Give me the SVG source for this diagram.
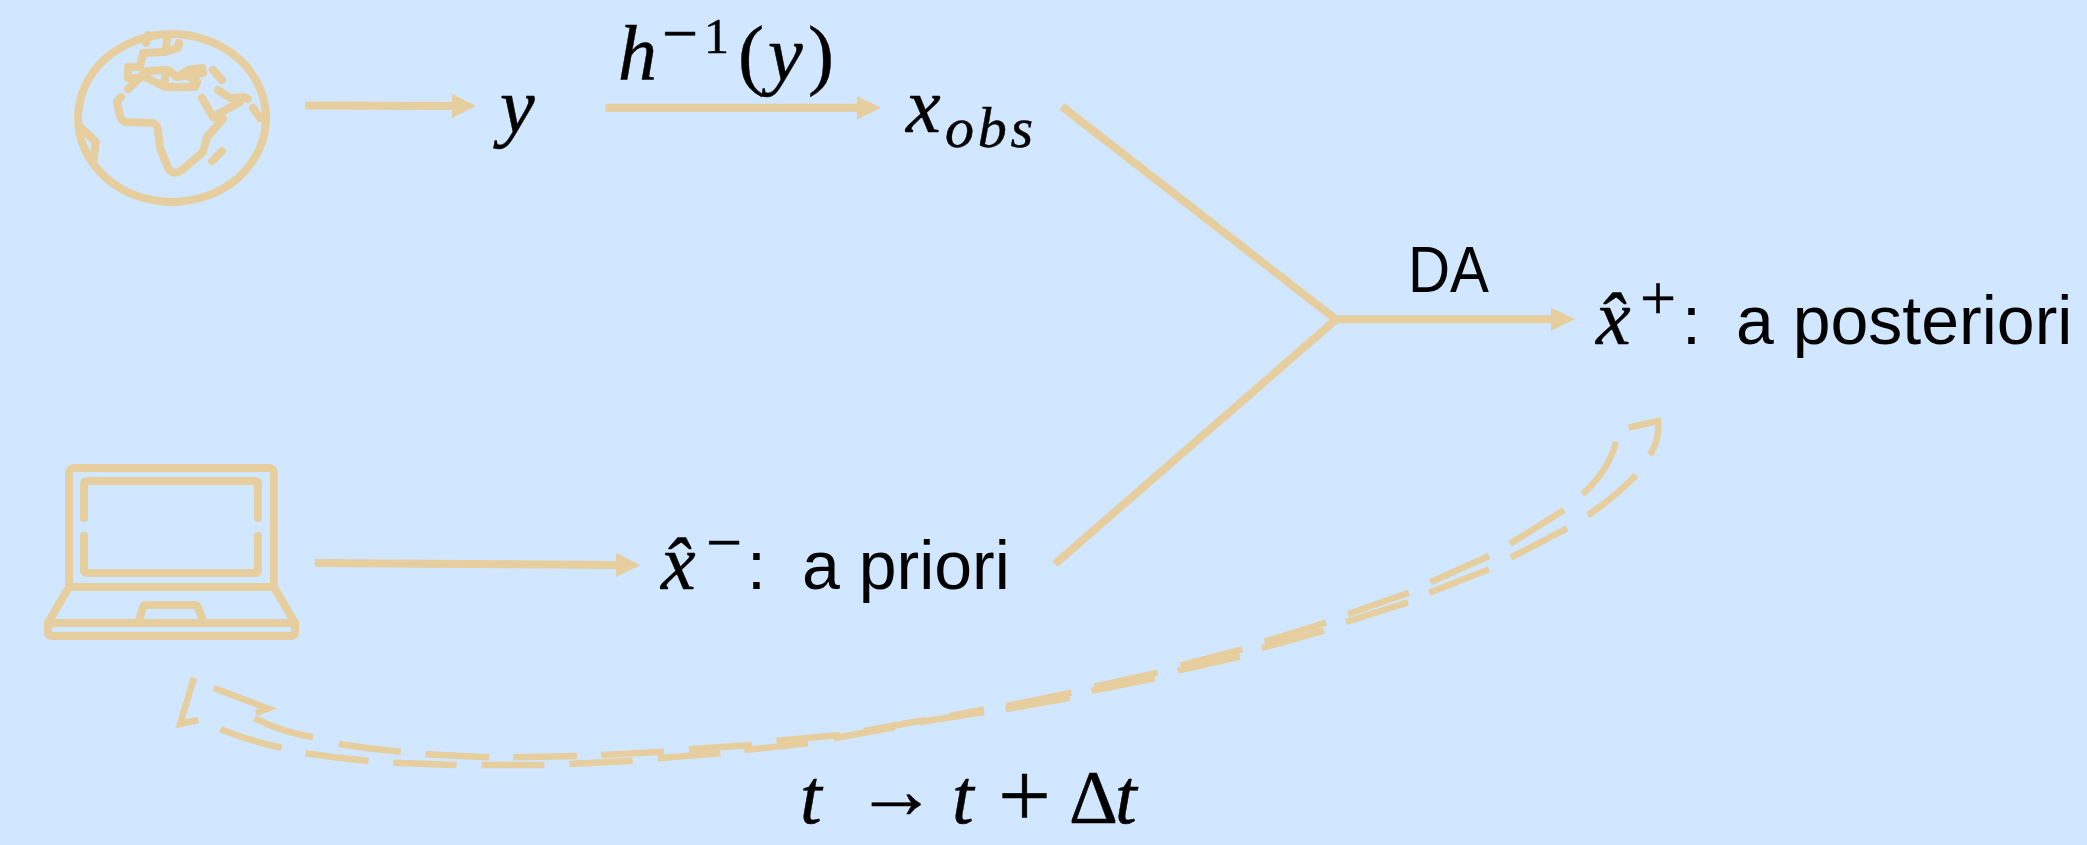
<svg xmlns="http://www.w3.org/2000/svg" width="2087" height="845" viewBox="0 0 2087 845">
<style>
.ln{fill:none;stroke:#E7CE9E;stroke-width:8}
.ah{fill:#E7CE9E}
.ic{fill:none;stroke:#E7CE9E;stroke-width:8;stroke-linecap:round;stroke-linejoin:round}
.d{fill:none;stroke:#E7CE9E;stroke-width:6.5;stroke-linejoin:miter;stroke-miterlimit:8}
.m{font-family:"Liberation Serif",serif;font-style:italic;font-size:78px;fill:#000;stroke:#000;stroke-width:.5}
.r{font-family:"Liberation Serif",serif;font-size:64px;fill:#000;stroke:#000;stroke-width:.5}
.s{font-family:"Liberation Sans",sans-serif;font-size:68px;fill:#000}
</style>
<rect width="2087" height="845" fill="#D0E7FF"/>
<g id="earth" class="ic">
<ellipse cx="172" cy="118" rx="94" ry="84"/>
<path d="M146 43L148 35M168 35L165 52L178 48L179 43M165 52L143 53L140 67L128 67L128 78L140 78M128 89L147 71L168 70L177 77L188 70L202 68L203 73L193 75L177 77M165 80L165 72M147 78L165 87L195 87L197 82L190 77"/>
<path d="M213 70L222 80M218 90L230 98L243 97L248 99M240 102L213 117L202 98M213 117L223 119L207 137L203 152L182 170C177 174 172 174 168 168L160 148L158 130C157 125 155 123 152 123L125 122C122 121 121 119 120 116L117 102L121 97"/>
<path d="M253 108L260 118M222 151L212 161M80 127L96 142L93 163"/>
</g>
<g id="laptop" class="ic">
<path d="M69 587V473C69 470 71 468 74 468H269C272 468 274 470 274 473V587"/>
<path d="M84 518V484C84 482 85 481 87 481H255C257 481 258 482 258 484V518M84 536V570C84 572 85 573 87 573H255C257 573 258 572 258 570V536"/>
<path d="M69 587H274L295 623V632C295 635 293 636 291 636H52C49 636 48 635 48 632V623Z"/>
<path d="M48 623H295"/>
<path d="M139 621L143 607C144 605 145 605 147 605H194C196 605 197 605 198 607L203 621"/>
</g>
<g id="connectors">
<path class="ln" d="M305 105.6L458 106"/>
<polygon class="ah" points="452,94 476,106 452,118"/>
<path class="ln" d="M605.5 107.7H860"/>
<polygon class="ah" points="857,96 881,107.7 857,119.4"/>
<path class="ln" d="M1062 106.5L1336 319.5M1055 564L1336 319.5"/>
<path class="ln" d="M1336 319.3H1555"/>
<polygon class="ah" points="1551,307.5 1575,319.3 1551,331"/>
<path class="ln" d="M315 563L620 565"/>
<polygon class="ah" points="616,553 640,565 616,577"/>
<path class="d" d="M254.6 718.3Q282 732 313 737.3M338.8 744Q370 749 401 751.7M425.5 754.3L489.3 757.3M513 757.3L577 756M601 755L664 751.7M688.8 749.3L752 745M776.5 740.7L840 735M864 731L925 720M950 716L984 709.5M1006.5 706L1071.5 692.7M1094.5 686.7L1157.7 672.7M1180.6 665.3L1242.3 649.3M1264.8 641.7L1326 622.7M1348 614L1409 592.7M1430.4 582.3L1489 556M1509.8 544L1564 510M1582.5 494.3Q1609 470 1616 441.7"/>
<path class="d" d="M220.4 729.3Q250 741 281.6 747.7M305.6 753.3Q337 758 368.4 761M393.4 762.7L456.6 765M481.6 765H544.4M569.4 764L632.7 760.7M657.7 758.3L720.4 753.3M744.4 750L808 743.3M833.7 738.3L895 727M920 722L984 712M1005.5 709.3L1069.6 697.7M1091.6 690.7L1154.8 678.3M1177.8 670.7L1240 656.7M1262 648L1324 630.7M1346 622L1408 602.3M1429.4 592.7L1489 569.3M1510.8 557.7L1567 528.3M1587.8 515.3Q1615 497 1636 475M1650 455Q1660 438 1658 421L1628.5 427.7"/>
<path class="d" d="M194 678L180 724L198.5 720M213.8 688L268 708.5L256 713"/>
</g>
<g id="y"><text class="m" x="500" y="132">y</text></g>
<g id="hinv">
<text class="m" x="618" y="80">h</text>
<text class="r" x="662" y="55">−</text>
<text class="r" x="704" y="53" style="font-size:50px">1</text>
<text class="r" x="738" y="80" style="font-size:78px">(</text>
<text class="m" x="768" y="80">y</text>
<text class="r" x="808" y="80" style="font-size:78px">)</text>
</g>
<g id="xobs">
<text class="m" x="906" y="132">x</text>
<text class="m" x="945" y="147" style="font-size:58px" textLength="88" lengthAdjust="spacing">obs</text>
</g>
<g id="da"><text class="s" x="1408" y="292" style="font-size:64px" textLength="81" lengthAdjust="spacingAndGlyphs">DA</text></g>
<g id="posterior">
<text class="m" x="1596" y="344">x̂</text>
<text class="r" x="1640" y="320">+</text>
<text class="s" x="1682" y="344">:</text>
<text class="s" x="1736" y="344">a posteriori</text>
</g>
<g id="prior">
<text class="m" x="661" y="589">x̂</text>
<text class="r" x="706" y="564">−</text>
<text class="s" x="747" y="589">:</text>
<text class="s" x="802" y="589">a priori</text>
</g>
<g id="time">
<text class="m" x="800" y="823">t</text>
<text class="r" x="855" y="818" style="font-size:82px">→</text>
<text class="m" x="952" y="823">t</text>
<text class="r" x="998" y="827" style="font-size:94px">+</text>
<text class="r" x="1069" y="823" style="font-size:76px">Δ</text>
<text class="m" x="1115" y="823">t</text>
</g>
</svg>
